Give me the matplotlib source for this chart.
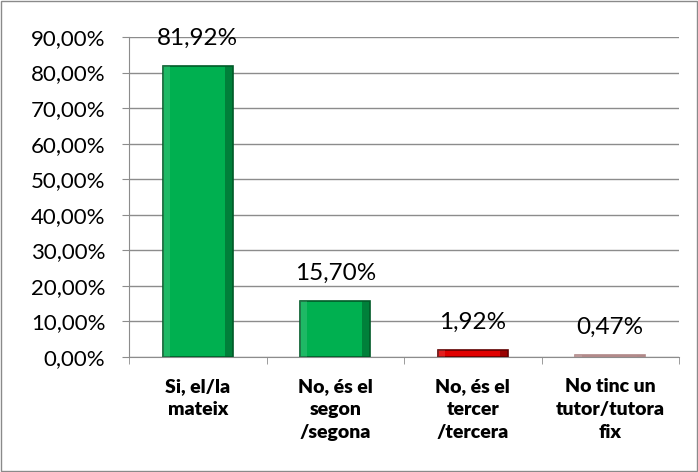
import matplotlib
matplotlib.use("Agg")
import matplotlib.pyplot as plt
from matplotlib.ticker import FixedLocator, FuncFormatter
import numpy as np

categories = ["Si, el/la\nmateix", "No, és el\nsegon\n/segona", "No, és el\ntercer\n/tercera", "No tinc un\ntutor/tutora\nfix"]
values = [81.92, 15.70, 1.92, 0.47]
colors = ["#00b050", "#00b050", "#e00000", "#c09898"]
edges = ["#005a28", "#005a28", "#600000", "#b08888"]
yticks = [0, 10, 20, 30, 40, 50, 60, 70, 80, 90]

plt.rcParams['font.family'] = ['Lato', 'DejaVu Sans']
fig = plt.figure(figsize=(6.98, 4.72), dpi=100)
fig.patch.set_facecolor("white")
fig.patches.append(plt.Rectangle((0.002, 0.002), 0.996, 0.996, transform=fig.transFigure,
                                 fill=False, edgecolor="#8a8a8a", linewidth=1.0))
ax = fig.add_axes([129/698, 1-357/472, (679-129)/698, (357-37)/472])
x = np.arange(len(values))
ax.bar(x, values, width=0.51, color=colors, edgecolor=edges, linewidth=1.2, zorder=3)
# bevel shading: darker right side, lighter left side
ax.bar(x + 0.51/2 - 0.03, values, width=0.06, color=edges, alpha=0.55, linewidth=0, zorder=4)
ax.bar(x - 0.51/2 + 0.025, values, width=0.05, color="white", alpha=0.12, linewidth=0, zorder=4)
ax.set_xlim(-0.5, 3.5)
ax.set_ylim(0, 90)
ax.yaxis.set_major_locator(FixedLocator(yticks))
ax.yaxis.set_major_formatter(FuncFormatter(lambda v, p: f"{v:.2f}%".replace(".", ",")))
ax.grid(axis="y", color="#8c8c8c", linewidth=1.0, zorder=0)
ax.set_xticks(x)
ax.set_xticklabels(categories, fontsize=14, fontweight="heavy", linespacing=1.45)
ax.set_xticks(np.arange(-0.5, 4, 1), minor=True)
ax.tick_params(axis="x", which="major", length=0, pad=15)
ax.tick_params(axis="x", which="minor", length=5, color="#8c8c8c")
ax.tick_params(axis="y", length=5, color="#8c8c8c", labelsize=16, pad=12)
for s in ["top", "right"]:
    ax.spines[s].set_visible(False)
ax.spines["left"].set_color("#8c8c8c")
ax.spines["bottom"].set_color("#8c8c8c")
for xi, v in zip(x, values):
    ax.annotate(f"{v:.2f}%".replace(".", ","), (xi, v), xytext=(0, 20), textcoords="offset points",
                ha="center", va="center", fontsize=17.5, zorder=5)
fig.savefig("out.png", dpi=100, facecolor="white")
